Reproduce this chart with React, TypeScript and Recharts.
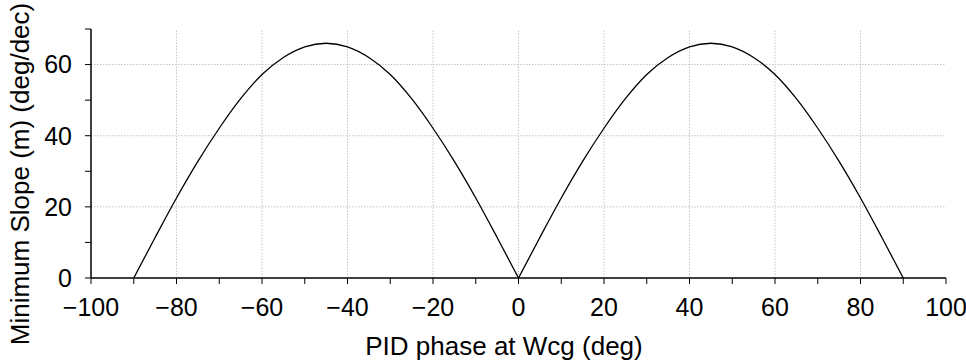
import React from 'react';
import {
  LineChart,
  Line,
  XAxis,
  YAxis,
  ReferenceLine,
  Label,
} from 'recharts';

// PID phase (deg) vs minimum slope (deg/dec)
const leftPhase = [-90, -85, -80, -75, -70, -65, -60, -55, -50, -45, -40, -35, -30, -25, -20, -15, -10, -5, 0];
const leftSlope = [0, 11.4, 22.5, 32.8, 42.1, 50.4, 57.2, 62, 65, 66, 65, 62, 57.2, 50.4, 42.1, 32.8, 22.5, 11.4, 0];
const rightPhase = [0, 5, 10, 15, 20, 25, 30, 35, 40, 45, 50, 55, 60, 65, 70, 75, 80, 85, 90];
const rightSlope = [0, 11.4, 22.5, 32.8, 42.1, 50.4, 57.2, 62, 65, 66, 65, 62, 57.2, 50.4, 42.1, 32.8, 22.5, 11.4, 0];

const xTicks = [-100, -90, -80, -70, -60, -50, -40, -30, -20, -10, 0, 10, 20, 30, 40, 50, 60, 70, 80, 90, 100];
const yTicks = [0, 10, 20, 30, 40, 50, 60, 70];
const xGrid = [-80, -60, -40, -20, 0, 20, 40, 60, 80];
const yGrid = [20, 40, 60];

const leftData = leftPhase.map((x, i) => ({ x, m: leftSlope[i] }));
const rightData = rightPhase.map((x, i) => ({ x, m: rightSlope[i] }));

const FONT = '"Liberation Sans", Arial, Helvetica, sans-serif';

const fmt = (v: number, step: number) => {
  if (v % step !== 0) return '';
  return v < 0 ? `\u2212${Math.abs(v)}` : `${v}`;
};

export default function App() {
  return (
    <div style={{ position: 'absolute', left: 0, top: 0, fontFamily: FONT }}>
      <LineChart
        width={966}
        height={361}
        margin={{ top: 29, right: 20, bottom: 0, left: 0 }}
      >
        <XAxis
          type="number"
          dataKey="x"
          domain={[-100, 100]}
          ticks={xTicks}
          interval={0}
          allowDataOverflow
          tickFormatter={(v) => fmt(v, 20)}
          height={83}
          tickSize={6}
          tickMargin={14}
          axisLine={{ stroke: '#000', strokeWidth: 1.5 }}
          tickLine={{ stroke: '#000', strokeWidth: 1 }}
          tick={{ fill: '#000', fontSize: 25, fontFamily: FONT }}
        >
          <Label
            content={() => (
              <text
                x={504}
                y={355}
                textAnchor="middle"
                fontSize={26}
                fontFamily={FONT}
                fill="#000"
              >
                PID phase at Wcg (deg)
              </text>
            )}
          />
        </XAxis>
        <XAxis
          xAxisId="top"
          orientation="top"
          type="number"
          domain={[-100, 100]}
          height={0}
          tick={false}
          tickLine={false}
          axisLine={{ stroke: '#000', strokeWidth: 1.5 }}
        />
        <YAxis
          type="number"
          domain={[0, 70]}
          ticks={yTicks}
          interval={0}
          allowDataOverflow
          tickFormatter={(v) => fmt(v, 20)}
          width={91}
          tickSize={6}
          tickMargin={13}
          axisLine={{ stroke: '#000', strokeWidth: 1.5 }}
          tickLine={{ stroke: '#000', strokeWidth: 1 }}
          tick={{ fill: '#000', fontSize: 25, fontFamily: FONT }}
        >
          <Label
            content={() => (
              <text
                x={0}
                y={0}
                transform="translate(29,174) rotate(-90)"
                textAnchor="middle"
                fontSize={26}
                fontFamily={FONT}
                fill="#000"
              >
                Minimum Slope (m) (deg/dec)
              </text>
            )}
          />
        </YAxis>
        <YAxis
          yAxisId="right"
          orientation="right"
          type="number"
          domain={[0, 70]}
          width={0}
          tick={false}
          tickLine={false}
          axisLine={{ stroke: '#000', strokeWidth: 1.5 }}
        />
        {xGrid.map((v) => (
          <ReferenceLine
            key={`gx${v}`}
            x={v}
            stroke="#c4c4c4"
            strokeWidth={1}
            strokeDasharray="1.5 1.5"
          />
        ))}
        {yGrid.map((v) => (
          <ReferenceLine
            key={`gy${v}`}
            y={v}
            stroke="#c4c4c4"
            strokeWidth={1}
            strokeDasharray="1.5 1.5"
          />
        ))}
        <Line
          data={leftData}
          dataKey="m"
          type="monotone"
          stroke="#000"
          strokeWidth={1.3}
          dot={false}
          isAnimationActive={false}
        />
        <Line
          data={rightData}
          dataKey="m"
          type="monotone"
          stroke="#000"
          strokeWidth={1.3}
          dot={false}
          isAnimationActive={false}
        />
      </LineChart>
    </div>
  );
}
